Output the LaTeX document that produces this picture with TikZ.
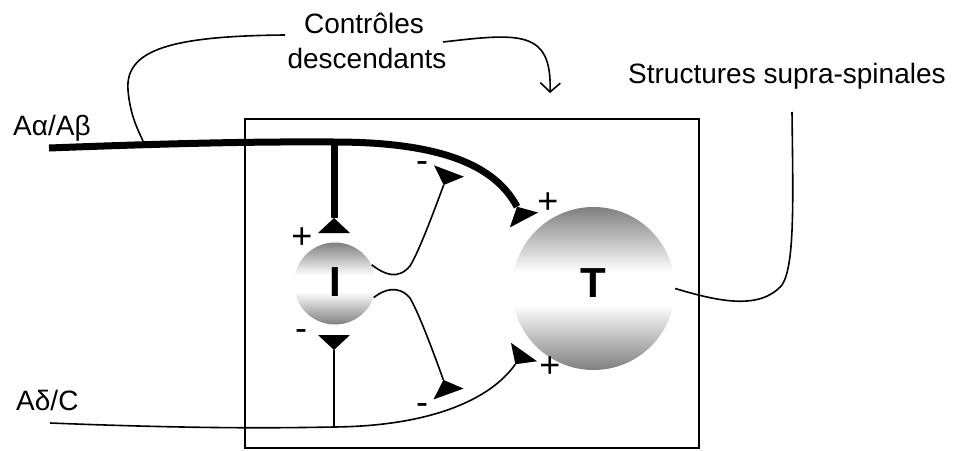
\documentclass[tikz,border=0pt]{standalone}
\usepackage{fontspec}
\setmainfont{Liberation Sans}
\usetikzlibrary{arrows.meta}
\definecolor{cellgray}{gray}{0.5}
\pgfdeclareverticalshading{cellshade}{100bp}{color(0bp)=(cellgray); color(25bp)=(cellgray); color(45bp)=(white); color(55bp)=(white); color(75bp)=(cellgray); color(100bp)=(cellgray)}
\begin{document}
\begin{tikzpicture}[x=1pt,y=-1pt,
  lbl/.style={font=\fontsize{28}{34}\selectfont, inner sep=0pt},
  sgn/.style={font=\fontsize{36}{40}\selectfont, inner sep=0pt, anchor=base},
  cell/.style={circle, inner sep=0pt, shade, shading=cellshade, font=\bfseries\fontsize{42}{46}\selectfont},
  fiber/.style={line width=1.6pt},
  thickfiber/.style={line width=7pt},
  syn/.style={-{Triangle[reversed,width=32pt,length=15pt,line width=0pt]}},
  barb/.style={-{Straight Barb[length=9pt,width=20pt]}}
]
\useasboundingbox (0,0) rectangle (963,450);
% box
\node[draw, line width=1.3pt, minimum width=454pt, minimum height=329pt, inner sep=0pt] (box) at (472,283.5) {};
% cells
\node[cell, minimum size=82pt, text height=30pt, text depth=4pt] (I) at (335,283.5) {I};
\node[cell, minimum size=163pt, text height=30pt, text depth=12pt] (T) at (593.5,288.5) {T};
% texts
\node[lbl, anchor=base west] (aab) at (13,135) {Aα/Aβ};
\node[lbl, anchor=base west] (ad) at (16,410) {Aδ/C};
\node[lbl, anchor=base west] (sup) at (628,83) {Structures supra-spinales};
\node[lbl, anchor=base] (ctl1) at (364,33) {Contrôles};
\node[lbl, anchor=base] (ctl2) at (367,68) {descendants};
% signs
\node[sgn] (p1) at (302,248.6) {+};
\node[sgn] (p2) at (548,213.6) {+};
\node[sgn] (p3) at (550,377.6) {+};
\node[sgn] (m1) at (422,172.2) {-};
\node[sgn] (m2) at (422,414.7) {-};
\node[sgn] (m3) at (301,340.2) {-};
% coordinates
\coordinate (aab0) at (49,148);
\coordinate (brA) at (334,142);
\coordinate (sT1) at (524,220);
\coordinate (sI1) at (334,233);
\coordinate (sU) at (449,171);
\coordinate (sL) at (448.5,394);
\coordinate (ad0) at (50,423);
\coordinate (brD) at (334,427);
\coordinate (sT2) at (524,352);
\coordinate (sI2) at (334,335);
\coordinate (sup0) at (792,112);
\coordinate (cdL) at (285,35);
\coordinate (cdLend) at (143,141);
\coordinate (cdR) at (443,42);
\coordinate (cdRend) at (550,93);
% fibres
\draw[thickfiber, syn] (aab0) .. controls (180,143) and (260,141.5) .. (brA) .. controls (440,142) and (495,165) .. (sT1);
\draw[thickfiber, syn] (brA) -- (sI1);
\draw[fiber, syn] (I.27) .. controls (385,275) and (398,280) .. (410,266) .. controls (420,250) and (438,200) .. (sU);
\draw[fiber, syn] (I.-20) .. controls (383,290) and (398,284) .. (410,298) .. controls (420,315) and (438,365) .. (sL);
\draw[fiber, syn] (ad0) .. controls (200,429) and (280,428) .. (brD) .. controls (430,426) and (490,400) .. (sT2);
\draw[fiber, syn] (brD) -- (sI2);
\draw[fiber] (T.east) .. controls (720,302) and (760,310) .. (782,285) .. controls (795,265) and (793,200) .. (sup0);
\draw[fiber] (cdL) .. controls (170,36) and (125,50) .. (128,90) .. controls (130,115) and (138,130) .. (cdLend);
\draw[fiber, barb] (cdR) .. controls (520,33) and (552,30) .. (cdRend);
\end{tikzpicture}
\end{document}
